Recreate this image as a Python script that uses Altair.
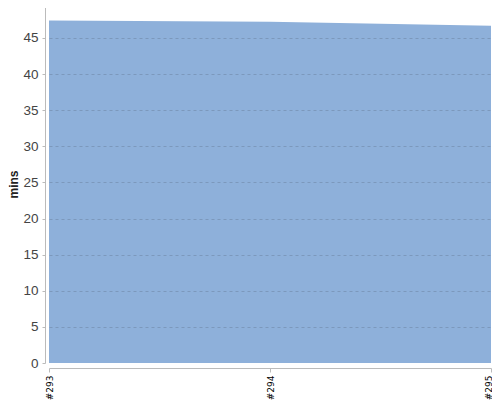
import altair as alt
import pandas as pd

builds = ["#293", "#294", "#295"]
mins = [47.4, 47.25, 46.7]

df = pd.DataFrame({"build": builds, "mins": mins})

chart = alt.Chart(df).mark_area(color="#8eb0da", opacity=1, line=False).encode(
    x=alt.X("build:O", sort=builds, title=None,
            scale=alt.Scale(type="point", padding=0),
            axis=alt.Axis(labelAngle=270, labelFontSize=9, labelColor="#000",
                          labelFont="DejaVu Sans", labelAlign="right", labelBaseline="middle",
                          labelOffset=alt.condition("datum.value == '#295'", alt.value(-3), alt.value(0)),
                          tickSize=4, tickColor="#bbb", domainColor="#bbb",
                          offset=5, grid=False, labelPadding=3)),
    y=alt.Y("mins:Q", title="mins",
            scale=alt.Scale(domain=[0, 49.7], nice=False),
            axis=alt.Axis(values=[0, 5, 10, 15, 20, 25, 30, 35, 40, 45],
                          labelFontSize=13.5, labelColor="#444", labelFont="Liberation Sans",
                          labelPadding=4, tickSize=3, tickColor="#bbb", domainColor="#bbb",
                          offset=4, grid=True, gridColor="#6f89a8",
                          gridOpacity=alt.condition("datum.value == 0", alt.value(0), alt.value(0.6)),
                          gridDash=[3, 3], titleFontSize=12, titleColor="#222",
                          titleFont="Liberation Sans", titleFontWeight="bold",
                          titleX=-31.5, titleY=180, titleAngle=270, titleAlign="center",
                          titleBaseline="middle",
                          zindex=1)),
).properties(
    width=442, height=359,
    autosize=alt.AutoSizeParams(type="none"),
    padding={"left": 41, "top": -4, "right": 1, "bottom": 37},
).configure_view(stroke=None).configure_axis(domainWidth=1)

chart.save("out.html", embed_options={"renderer": "svg", "actions": False})
